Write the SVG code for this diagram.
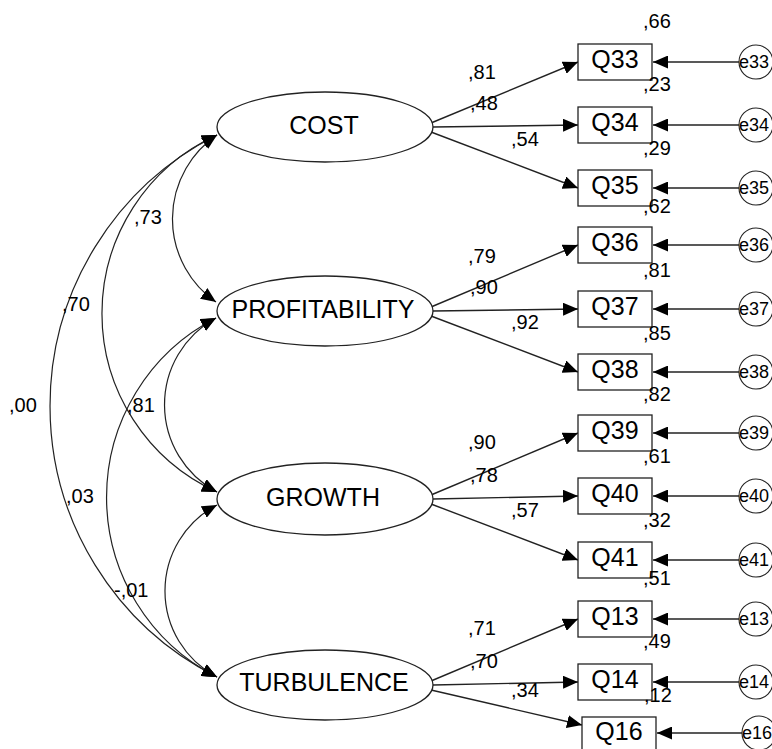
<svg xmlns="http://www.w3.org/2000/svg" width="772" height="749" viewBox="0 0 772 749">
  <style>
    .lat { fill: #fff; stroke: #222; stroke-width: 1.3; }
    .box { fill: #fff; stroke: #222; stroke-width: 1.3; }
    .err { fill: #fff; stroke: #222; stroke-width: 1.1; }
    .big { font-family: "Liberation Sans", Arial, sans-serif; font-size: 25px; fill: #000; text-anchor: middle; }
    .num { font-family: "Liberation Sans", Arial, sans-serif; font-size: 20px; fill: #000; }
    .elab { font-family: "Liberation Sans", Arial, sans-serif; font-size: 18px; fill: #000; }
    .path { fill: none; stroke: #222; stroke-width: 1.4; marker-end: url(#head); }
    .cov { fill: none; stroke: #222; stroke-width: 1.2; marker-start: url(#head); marker-end: url(#head); }
  </style>
  <defs>
    <marker id="head" markerUnits="userSpaceOnUse" markerWidth="16" markerHeight="13" refX="15" refY="6.5" orient="auto-start-reverse" viewBox="0 0 16 13">
      <path d="M0,0 L15,6.5 L0,13 z" fill="#000"/>
    </marker>
  </defs>
  <rect width="772" height="749" fill="#fff"/>

  <!-- covariances between the factors -->
  <g id="covariances">
    <path class="cov" d="M217,135 A101.2,101.2 0 0 0 216,302"/>
    <path class="cov" d="M217,135 A196,196 0 0 0 217,492"/>
    <path class="cov" d="M217,135 A303.4,303.4 0 0 0 217,677"/>
    <path class="cov" d="M216,318 A98.8,98.8 0 0 0 217,492"/>
    <path class="cov" d="M216,318 A201.5,201.5 0 0 0 217,677"/>
    <path class="cov" d="M217,505 A97.1,97.1 0 0 0 217,677"/>
  </g>

  <!-- loadings and error paths -->
  <g id="connectors">
    <line class="path" x1="431" y1="123" x2="578" y2="62"/>
    <line class="path" x1="433" y1="127" x2="578" y2="125"/>
    <line class="path" x1="431" y1="132" x2="578" y2="188"/>
    <line class="path" x1="431" y1="307" x2="578" y2="245"/>
    <line class="path" x1="433" y1="311" x2="578" y2="309"/>
    <line class="path" x1="431" y1="316" x2="578" y2="372"/>
    <line class="path" x1="431" y1="495" x2="578" y2="433"/>
    <line class="path" x1="433" y1="499" x2="578" y2="496"/>
    <line class="path" x1="431" y1="504" x2="578" y2="560"/>
    <line class="path" x1="431" y1="681" x2="578" y2="619"/>
    <line class="path" x1="433" y1="685" x2="578" y2="682"/>
    <line class="path" x1="431" y1="690" x2="582" y2="725"/>

    <line class="path" x1="739" y1="62" x2="653" y2="62"/>
    <line class="path" x1="739" y1="125" x2="653" y2="125"/>
    <line class="path" x1="739" y1="188" x2="653" y2="188"/>
    <line class="path" x1="739" y1="245" x2="653" y2="245"/>
    <line class="path" x1="739" y1="309" x2="653" y2="309"/>
    <line class="path" x1="739" y1="372" x2="653" y2="372"/>
    <line class="path" x1="739" y1="433" x2="653" y2="433"/>
    <line class="path" x1="739" y1="496" x2="653" y2="496"/>
    <line class="path" x1="739" y1="560" x2="653" y2="560"/>
    <line class="path" x1="739" y1="619" x2="653" y2="619"/>
    <line class="path" x1="739" y1="682" x2="653" y2="682"/>
    <line class="path" x1="742" y1="733" x2="657" y2="733"/>
  </g>

  <!-- latent factors -->
  <g id="COST"><ellipse class="lat" cx="325" cy="127" rx="108" ry="35"/><text class="big" x="324" y="134">COST</text></g>
  <g id="PROFITABILITY"><ellipse class="lat" cx="325" cy="311" rx="108" ry="35"/><text class="big" x="323" y="318">PROFITABILITY</text></g>
  <g id="GROWTH"><ellipse class="lat" cx="325" cy="499" rx="108" ry="36"/><text class="big" x="323" y="506">GROWTH</text></g>
  <g id="TURBULENCE"><ellipse class="lat" cx="325" cy="685" rx="108" ry="35"/><text class="big" x="324" y="691">TURBULENCE</text></g>

  <!-- observed items -->
  <g id="Q33"><rect class="box" x="578" y="44" width="74" height="36"/><text class="big" x="615" y="68">Q33</text></g>
  <g id="Q34"><rect class="box" x="578" y="107" width="74" height="36"/><text class="big" x="615" y="131">Q34</text></g>
  <g id="Q35"><rect class="box" x="578" y="170" width="74" height="36"/><text class="big" x="615" y="194">Q35</text></g>
  <g id="Q36"><rect class="box" x="578" y="227" width="74" height="36"/><text class="big" x="615" y="251">Q36</text></g>
  <g id="Q37"><rect class="box" x="578" y="291" width="74" height="36"/><text class="big" x="615" y="315">Q37</text></g>
  <g id="Q38"><rect class="box" x="578" y="354" width="74" height="36"/><text class="big" x="615" y="378">Q38</text></g>
  <g id="Q39"><rect class="box" x="578" y="415" width="74" height="36"/><text class="big" x="615" y="439">Q39</text></g>
  <g id="Q40"><rect class="box" x="578" y="478" width="74" height="36"/><text class="big" x="615" y="502">Q40</text></g>
  <g id="Q41"><rect class="box" x="578" y="542" width="74" height="36"/><text class="big" x="615" y="566">Q41</text></g>
  <g id="Q13"><rect class="box" x="578" y="601" width="74" height="36"/><text class="big" x="615" y="625">Q13</text></g>
  <g id="Q14"><rect class="box" x="578" y="664" width="74" height="36"/><text class="big" x="615" y="688">Q14</text></g>
  <g id="Q16"><rect class="box" x="582" y="717" width="74" height="36"/><text class="big" x="619" y="740">Q16</text></g>

  <!-- error terms -->
  <g id="e33"><circle class="err" cx="756" cy="62" r="17"/><text class="elab" x="739" y="68">e33</text></g>
  <g id="e34"><circle class="err" cx="756" cy="125" r="17"/><text class="elab" x="739" y="131">e34</text></g>
  <g id="e35"><circle class="err" cx="756" cy="188" r="17"/><text class="elab" x="739" y="194">e35</text></g>
  <g id="e36"><circle class="err" cx="756" cy="245" r="17"/><text class="elab" x="739" y="251">e36</text></g>
  <g id="e37"><circle class="err" cx="756" cy="309" r="17"/><text class="elab" x="739" y="315">e37</text></g>
  <g id="e38"><circle class="err" cx="756" cy="372" r="17"/><text class="elab" x="739" y="378">e38</text></g>
  <g id="e39"><circle class="err" cx="756" cy="433" r="17"/><text class="elab" x="739" y="439">e39</text></g>
  <g id="e40"><circle class="err" cx="756" cy="496" r="17"/><text class="elab" x="739" y="502">e40</text></g>
  <g id="e41"><circle class="err" cx="756" cy="560" r="17"/><text class="elab" x="739" y="566">e41</text></g>
  <g id="e13"><circle class="err" cx="756" cy="619" r="17"/><text class="elab" x="739" y="625">e13</text></g>
  <g id="e14"><circle class="err" cx="756" cy="682" r="17"/><text class="elab" x="739" y="688">e14</text></g>
  <g id="e16"><circle class="err" cx="759" cy="733" r="17"/><text class="elab" x="742" y="739">e16</text></g>

  <!-- estimates -->
  <g id="estimates">
    <text class="num" x="468" y="79">,81</text>
    <text class="num" x="470" y="110">,48</text>
    <text class="num" x="511" y="146">,54</text>
    <text class="num" x="468" y="263">,79</text>
    <text class="num" x="470" y="294">,90</text>
    <text class="num" x="511" y="329">,92</text>
    <text class="num" x="468" y="449">,90</text>
    <text class="num" x="470" y="482">,78</text>
    <text class="num" x="511" y="517">,57</text>
    <text class="num" x="468" y="635">,71</text>
    <text class="num" x="470" y="668">,70</text>
    <text class="num" x="511" y="697">,34</text>

    <text class="num" x="643" y="28">,66</text>
    <text class="num" x="643" y="91">,23</text>
    <text class="num" x="643" y="155">,29</text>
    <text class="num" x="643" y="213">,62</text>
    <text class="num" x="643" y="277">,81</text>
    <text class="num" x="643" y="340">,85</text>
    <text class="num" x="643" y="401">,82</text>
    <text class="num" x="643" y="463">,61</text>
    <text class="num" x="643" y="527">,32</text>
    <text class="num" x="643" y="585">,51</text>
    <text class="num" x="643" y="648">,49</text>
    <text class="num" x="644" y="702">,12</text>

    <text class="num" x="134" y="224">,73</text>
    <text class="num" x="62" y="311">,70</text>
    <text class="num" x="9" y="412">,00</text>
    <text class="num" x="127" y="412">,81</text>
    <text class="num" x="66" y="503">,03</text>
    <text class="num" x="114" y="597">-,01</text>
  </g>
</svg>
